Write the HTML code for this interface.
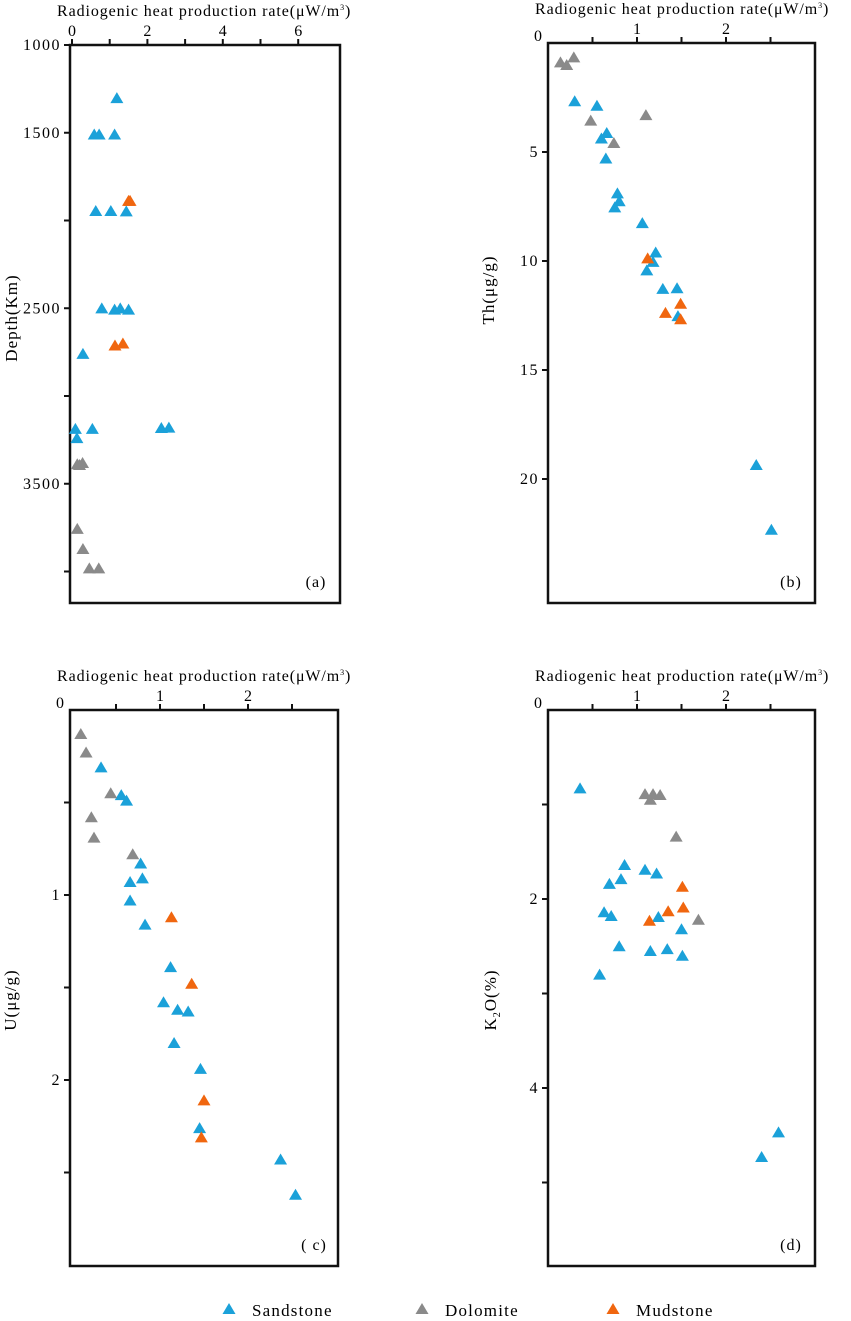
<!DOCTYPE html>
<html><head><meta charset="utf-8"><style>
body{margin:0;background:#fff;width:851px;height:1321px;overflow:hidden}
svg{display:block;font-family:"Liberation Serif",serif}
</style></head><body>
<svg id="fig" width="851" height="1321" viewBox="0 0 851 1321"></svg>
<script>
// Panel (a) depth vs heat production
const aSand=[[1.19,1303],[0.59,1510],[0.72,1510],[1.13,1510],[0.63,1946],[1.03,1946],[1.44,1948],[0.79,2501],[1.13,2508],[1.28,2501],[1.5,2508],[0.29,2760],[0.09,3187],[0.54,3187],[2.37,3182],[2.57,3180],[0.13,3240]];
const aMud=[[1.5,1888],[1.54,1888],[1.14,2712],[1.35,2701]];
const aDolo=[[0.14,3389],[0.28,3382],[0.2,3393],[0.14,3757],[0.29,3872],[0.46,3982],[0.71,3982]];
// Panel (b) Th
const bSand=[[0.30,2.67],[0.55,2.88],[0.66,4.13],[0.60,4.38],[0.65,5.30],[0.78,6.90],[0.80,7.26],[0.75,7.54],[1.06,8.26],[1.21,9.61],[1.18,10.04],[1.11,10.43],[1.29,11.28],[1.45,11.25],[1.46,12.53],[2.34,19.36],[2.51,22.33]];
const bDolo=[[0.14,0.89],[0.21,1.01],[0.29,0.66],[0.48,3.56],[1.10,3.31],[0.74,4.59]];
const bMud=[[1.12,9.88],[1.32,12.38],[1.49,11.96],[1.49,12.67]];
// Panel (c) U
const cSand=[[0.33,0.31],[0.56,0.46],[0.62,0.49],[0.78,0.83],[0.80,0.91],[0.66,0.93],[0.66,1.03],[0.83,1.16],[1.12,1.39],[1.04,1.58],[1.20,1.62],[1.32,1.63],[1.16,1.80],[1.46,1.94],[1.45,2.26],[2.37,2.43],[2.54,2.62]];
const cDolo=[[0.10,0.13],[0.16,0.23],[0.44,0.45],[0.22,0.58],[0.25,0.69],[0.69,0.78]];
const cMud=[[1.13,1.12],[1.36,1.48],[1.50,2.11],[1.47,2.31]];
// Panel (d) K2O
const dSand=[[0.36,0.83],[0.86,1.64],[1.09,1.69],[1.22,1.73],[0.69,1.84],[0.82,1.79],[0.63,2.14],[0.71,2.18],[1.24,2.19],[1.50,2.32],[0.80,2.50],[1.15,2.55],[1.34,2.53],[1.51,2.60],[0.58,2.80],[2.59,4.47],[2.40,4.73]];
const dDolo=[[1.09,0.89],[1.18,0.89],[1.26,0.90],[1.15,0.95],[1.44,1.34],[1.69,2.22]];
const dMud=[[1.51,1.87],[1.52,2.09],[1.35,2.13],[1.14,2.23]];
const aXTicks=[0,2,4,6]; const aXMinor=[1,3,5]; const aYTicks=[1000,1500,2500,3500]; const aYMinor=[2000,3000,4000];
const bXTicks=[1,2]; const bXMinor=[0.5,1.5,2.5]; const bYTicks=[5,10,15,20];
const cXTicks=[1,2]; const cXMinor=[0.5,1.5,2.5]; const cYTicks=[1,2]; const cYMinor=[0.5,1.5,2.5];
const dXTicks=[1,2]; const dXMinor=[0.5,1.5,2.5]; const dYTicks=[2,4]; const dYMinor=[1,3,5];

const NS='http://www.w3.org/2000/svg', svg=document.getElementById('fig');
const COL={sand:'#1ba1d9',dolo:'#8a8a8a',mud:'#f0660f'};
function mk(t,at,txt){const e=document.createElementNS(NS,t);for(const k in at)e.setAttribute(k,at[k]);if(txt!=null)e.textContent=txt;svg.appendChild(e);return e;}
function tri(x,y,c){const e=mk('polygon',{points:`${x-6.5},${y+5} ${x+6.5},${y+5} ${x},${y-6}`,fill:c});return e;}
function panel(p){
  const X=v=>p.x0+(v-p.xmin)*p.xs, Y=v=>p.y0+(v-p.ymin)*p.ys;
  const b=mk('rect',{x:p.l,y:p.t,width:p.r-p.l,height:p.b-p.t,fill:'none',stroke:'#111','stroke-width':2.5});
  
  const t=mk('text',{x:p.l-13,y:p.t-29,'font-size':16,'letter-spacing':'0.9'},'Radiogenic  heat production rate(μW/m');
  t.setAttribute('xml:space','preserve');
  const ts=document.createElementNS(NS,'tspan');ts.setAttribute('font-size','8');ts.setAttribute('dy','-6');ts.textContent='3';t.appendChild(ts);
  const ts2=document.createElementNS(NS,'tspan');ts2.setAttribute('dy','6');ts2.textContent=')';t.appendChild(ts2);
  p.xt.forEach(v=>{const l=mk('text',{x:X(v),y:p.t-9,'font-size':16,'text-anchor':'middle'},String(v));
    mk('line',{x1:X(v),x2:X(v),y1:p.t,y2:p.t-6,stroke:'#111','stroke-width':2});});
  p.xm.forEach(v=>{mk('line',{x1:X(v),x2:X(v),y1:p.t,y2:p.t-6,stroke:'#111','stroke-width':2});});
  if(p.zero){const z=mk('text',{x:p.l-10,y:p.t-2,'font-size':16,'text-anchor':'middle'},'0');}
  p.yt.forEach(v=>{const l=mk('text',{x:p.l-9,y:Y(v)+5,'font-size':16,'text-anchor':'end','letter-spacing':'1.5'},String(v));
    mk('line',{x1:p.l,x2:p.l-6,y1:Y(v),y2:Y(v),stroke:'#111','stroke-width':2});});
  p.ym.forEach(v=>{mk('line',{x1:p.l,x2:p.l-6,y1:Y(v),y2:Y(v),stroke:'#111','stroke-width':2});});
  const yt=mk('text',{x:0,y:0,'font-size':17,'letter-spacing':'1','text-anchor':'middle',transform:`translate(${p.yx},${p.yy}) rotate(-90)`},p.ylab);
  
  if(p.sub){yt.textContent='K';const s=document.createElementNS(NS,'tspan');s.setAttribute('font-size','10');s.setAttribute('dy','4');s.textContent='2';yt.appendChild(s);const s2=document.createElementNS(NS,'tspan');s2.setAttribute('dy','-4');s2.textContent='O(%)';yt.appendChild(s2);}
  const pl=mk('text',{x:p.r-24,y:p.b-16,'font-size':16,'text-anchor':'middle','letter-spacing':'1'},p.tag);
  
  [['sand',p.sand],['dolo',p.dolo],['mud',p.mud]].forEach(([k,arr])=>arr.forEach(d=>{
    const m=tri(X(d[0]),Y(d[1]),COL[k]);
    
    
  }));
}
panel({id:'panel-a',l:70,r:340,t:45,b:603,xmin:0,x0:72,xs:37.7,ymin:1000,y0:45,ys:0.1755,xt:aXTicks,xm:aXMinor,yt:aYTicks,ym:aYMinor,zero:false,yx:17,yy:318,ylab:'Depth(Km)',tag:'(a)',sand:aSand,dolo:aDolo,mud:aMud});
panel({id:'panel-b',l:548,r:815,t:43,b:603,xmin:0,x0:548,xs:89,ymin:0,y0:43,ys:21.8,xt:bXTicks,xm:bXMinor,yt:bYTicks,ym:[],zero:true,yx:494,yy:290,ylab:'Th(μg/g)',tag:'(b)',sand:bSand,dolo:bDolo,mud:bMud});
panel({id:'panel-c',l:70,r:338,t:710,b:1266,xmin:0,x0:72,xs:88,ymin:0,y0:710,ys:185,xt:cXTicks,xm:cXMinor,yt:cYTicks,ym:cYMinor,zero:true,yx:16,yy:1000,ylab:'U(μg/g)',tag:'( c)',sand:cSand,dolo:cDolo,mud:cMud});
panel({id:'panel-d',l:548,r:815,t:710,b:1266,xmin:0,x0:548,xs:89,ymin:0,y0:710,ys:94.5,xt:dXTicks,xm:dXMinor,yt:dYTicks,ym:dYMinor,zero:true,yx:496,yy:1000,ylab:'K2O(%)',sub:true,tag:'(d)',sand:dSand,dolo:dDolo,mud:dMud});
const legendItems=[['Sandstone',COL.sand,229],['Dolomite',COL.dolo,422],['Mudstone',COL.mud,613]];
legendItems.forEach(([n,c,x])=>{
  const m=tri(x,1309,c);
  
  
  const t=mk('text',{x:x+23,y:1316,'font-size':17,'letter-spacing':'1.2'},n);
  
  
});
</script>
</body></html>
